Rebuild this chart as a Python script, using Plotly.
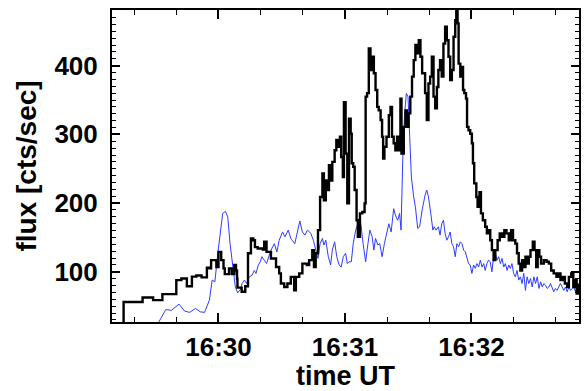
import plotly.graph_objects as go

# time in seconds after 16:29:00 UT
black_t = [10, 15, 24, 29, 33.4, 40, 42.4, 45, 47.4, 49.5, 52, 54.5, 55.7, 56.5, 59, 60, 61.3, 62.4, 63, 65, 66.3, 67.5,
           68.3, 68.8, 69, 71, 72.7, 74, 75.4, 76.5, 77.3, 78.6, 81, 81.7, 82.8, 84.9, 87.3, 88.8, 89.6, 91.2, 92.7,
           94.3, 95.9, 96.7, 98.3, 99.8, 101.9, 103, 104.5, 105.3, 106.1, 107.2, 108.2, 109.3, 110, 110.9, 111.6,
           112.4, 113.2, 114, 115.1, 115.9, 116.7, 117.6, 118.2, 119, 119.5, 120.3, 121.1, 121.9, 122.7, 123.2,
           123.9, 124.6, 125.5, 126.1, 127.1, 128.2, 129.3, 129.8, 130.5, 131.3, 132.1, 132.9, 133.7, 134.5, 135.3,
           136, 136.9, 137.6, 138.1, 138.7, 139.7, 140.8, 141.6, 142.3, 143.1, 143.9, 144.7, 145.5, 146.3, 146.8,
           147.9, 148.7, 149.4, 150.2, 151, 151.8, 152.6, 153.4, 154.2, 155, 155.8, 156.6, 158, 158.8, 159.6, 160.4,
           161.2, 162, 162.8, 163.6, 164.3, 165.1, 165.9, 166.7, 167.5, 168.3, 169.1, 169.9, 170.7, 171.5, 172.3,
           172.8, 173.4, 173.9, 174.7, 175.5, 176, 176.6, 177.4, 177.9, 178.6, 179.4, 180.2, 180.7, 181.3, 182.3,
           182.9, 183.8, 184.5, 185.4, 186.5, 187.3, 188.1, 188.9, 189.7, 190.5, 191.3, 192.4, 193.4, 194.5, 195.6,
           196.6, 197.7, 198.8, 199.7, 200.8, 201.6, 202.4, 203.2, 204, 204.8, 205.6, 206.4, 207.2, 208, 209.1,
           209.9, 210.7, 211.4, 212.2, 213, 214.3, 215.6, 216.7, 217.8, 219, 220.3, 221.4, 222.2, 223.3, 224.3,
           225.4, 226.2, 227.3, 228.3, 228.9, 229.9, 230.5]
black_v = [0, 56, 62.7, 58.8, 67.5, 88, 90.4, 79, 93, 94.7, 92, 106, 105, 117, 107, 129, 117, 105, 96.6, 105, 96.6, 110,
           102, 90, 77, 71, 79, 127, 148.6, 146, 136, 134, 132.6, 143.7, 129, 119.5, 107, 97.7, 83, 78, 83,
           92.7, 73, 92.7, 97.7, 112, 110, 117, 131.6, 107, 127, 160.7, 209, 243, 204, 233, 219,
           255, 233, 260, 277, 292, 282, 296.5, 267, 238, 347, 272, 199.6, 323, 301, 258,
           253, 219, 175, 151, 185, 187, 199.6, 355, 360, 425, 393.6, 413, 389, 364.5, 340,
           335, 321, 296.5, 265, 282, 296.5, 328, 340, 296.5, 287, 277, 296.5, 277, 352, 272,
           311, 335, 311, 330.6, 355, 384, 408, 430, 418, 437, 413, 389, 360, 321, 374, 384,
           413, 355, 338, 369, 393.6, 408, 384, 432, 456.6, 437, 413, 379, 393.6, 442, 466,
           490, 461.6, 403, 384, 398, 364.5, 360, 352, 311, 306, 301, 287, 258, 228.7, 209,
           194.6, 216, 185, 175, 165.5, 156, 160.7, 146, 131.6, 117, 131.6, 146, 156, 151, 160.7,
           156, 146, 160.7, 146, 141, 127, 112, 102, 117, 107, 122, 112, 122, 131.6, 143.7,
           131.6, 107, 131.6, 122, 112, 117, 114.6, 112, 102, 97.7, 92.7, 97.7, 88, 92.7, 83,
           78, 92.7, 97.7, 78, 88, 68.5, 83]

blue_t = [29.5, 35, 37.7, 41.3, 43.9, 46.3, 49.1, 51.4, 53.4, 54.5, 55.7, 57, 58.3, 59.7, 60.8, 62, 63.3, 64.4, 65.5,
          66.8, 68, 69.1, 70.3, 71.2, 72.3, 73.4, 74.6, 75.9, 77, 77.8, 78.9, 79.8, 80.6, 81.7, 82.8, 84.9, 86.5,
          87.7, 88.8, 90.4, 91.5, 93.1, 94.3, 96.2, 97.5, 98.6, 99.8, 101, 102.2, 103.8, 105, 106.1, 107.2, 108.2,
          109.3, 110, 110.9, 112.1, 113.2, 114, 115.1, 116.1, 117.2, 118.2, 119.2, 120.3, 121.1, 121.9, 123, 123.9,
          125.1, 126.1, 127.4, 128.6, 129.8, 130.9, 131.8, 132.9, 133.7, 134.5, 135.6, 136.5, 137.6, 138.7, 139.7,
          140.8, 141.9, 143.1, 143.9, 145, 145.9, 146.6, 147.4, 148.2, 149.1, 149.9, 150.7, 151.5, 152.6, 153.4,
          154.5, 155.4, 156.6, 157.3, 158, 158.8, 159.6, 160.7, 161.7, 162.3, 163.2, 164.3, 165.1, 165.9, 166.7,
          167.5, 168.3, 169.1, 169.9, 170.7, 171.5, 172.3, 173.1, 173.9, 174.7, 175.5, 176.3, 177.1, 177.9, 178.6,
          179.4, 180.2, 181, 181.8, 182.6, 183.4, 184.2, 185, 185.8, 186.5, 187.3, 188.1, 188.9, 189.7, 190.5,
          191.3, 192.1, 192.9, 193.7, 194.5, 195.3, 196.1, 196.9, 197.7, 198.4, 199.2, 200, 200.8, 201.6, 202.4,
          203.2, 204, 204.8, 205.6, 206.4, 207.2, 208, 208.8, 209.6, 210.4, 211.2, 212, 212.8, 213.6, 214.3,
          215.1, 215.9, 216.7, 217.5, 218.3, 219, 219.8, 220.6, 221.4, 222.2, 223, 223.8, 224.6, 225.4, 226.2,
          227, 227.8, 228.5, 229.3, 230.1, 231.2]
blue_v = [15, 45, 44, 53, 43, 41, 46.7, 41.8, 41, 49, 58.8, 88, 85.4, 127, 151, 185, 188, 180, 141,
          105, 78, 69.4, 74, 83, 88, 83, 92.7, 95, 102, 97.7, 110, 114.6, 122, 117, 112, 131.6, 141,
          129, 146, 158, 151, 160.7, 148.6, 141, 160.7, 174, 158, 153.4, 160.7, 156, 146, 131.6, 119.5, 141,
          148.6, 139, 146, 122, 110, 131.6, 143.7, 122, 110, 107, 122, 127, 112, 114.6, 114.6, 141,
          160.7, 170, 172.8, 141, 114.6, 141, 160.7, 151, 131.6, 148.6, 139, 141, 122, 141, 156,
          170, 158, 192, 182.5, 175, 185, 160.7, 262.6, 325.6, 359.7, 354.7, 296.5, 238, 209, 194.6,
          163, 165.5, 190, 202, 211.6, 219, 209, 185, 160.7, 165.5, 160.7, 165.5, 153.4, 170, 175,
          156, 146, 151, 158, 141, 136.4, 122, 141, 136.4, 143.7, 141, 131.6, 129, 117, 112,
          110, 97.7, 110, 105, 112, 107, 117, 107, 112, 102, 112, 117, 114.6, 100, 122,
          127, 117, 122, 112, 119.5, 107, 112, 102, 110, 105, 112, 97.7, 92.7, 102, 88,
          92.7, 83, 97.7, 73, 92.7, 83, 90.4, 78, 92.7, 83, 92.7, 75.8, 85.4, 78, 83,
          80.6, 75.8, 78, 83, 75.8, 71, 75.8, 73, 78, 83, 78, 73, 78, 71, 78,
          73, 75.8, 78, 71, 75.8, 66]

x_tickvals = [60, 120, 180]
x_ticktext = ["16:30", "16:31", "16:32"]

FONT = "Liberation Sans, Arial, sans-serif"

fig = go.Figure()
fig.add_trace(go.Scatter(x=blue_t, y=blue_v, mode="lines",
                         line=dict(color="#2b3dff", width=1), showlegend=False))
fig.add_trace(go.Scatter(x=black_t, y=black_v, mode="lines", line_shape="hv",
                         line=dict(color="black", width=2.4), showlegend=False))

fig.update_layout(
    width=585, height=391,
    margin=dict(l=112, r=4, t=10, b=69),
    paper_bgcolor="white", plot_bgcolor="white",
    font=dict(family=FONT, size=26, color="black"),
)
fig.update_xaxes(
    range=[9.5, 231], tickmode="array", tickvals=x_tickvals, ticktext=x_ticktext,
    ticks="inside", ticklen=9, tickwidth=1.5, tickcolor="black",
    showline=True, linecolor="black", linewidth=2, mirror="allticks",
    showgrid=False, zeroline=False,
    tickfont=dict(family=FONT, size=26, color="black", weight="bold"),
    ticklabelstandoff=1,
    minor=dict(tickmode="linear", tick0=0, dtick=20, ticks="inside", ticklen=5,
               tickwidth=1.2, tickcolor="black", showgrid=False),
    title=dict(text="<b>time UT</b>", font=dict(family=FONT, size=27), standoff=5),
)
fig.update_yaxes(
    range=[27, 481], tickmode="linear", tick0=0, dtick=100,
    ticks="inside", ticklen=8, tickwidth=1.5, tickcolor="black",
    showline=True, linecolor="black", linewidth=2, mirror="allticks",
    showgrid=False, zeroline=False,
    tickfont=dict(family=FONT, size=26, color="black", weight="bold"),
    ticklabelstandoff=7,
    minor=dict(tickmode="linear", tick0=0, dtick=10, ticks="inside", ticklen=4,
               tickwidth=1.2, tickcolor="black", showgrid=False),
    title=dict(text="<b>flux [cts/sec]</b>", font=dict(family=FONT, size=28), standoff=10),
)

fig.write_html("out.html")
